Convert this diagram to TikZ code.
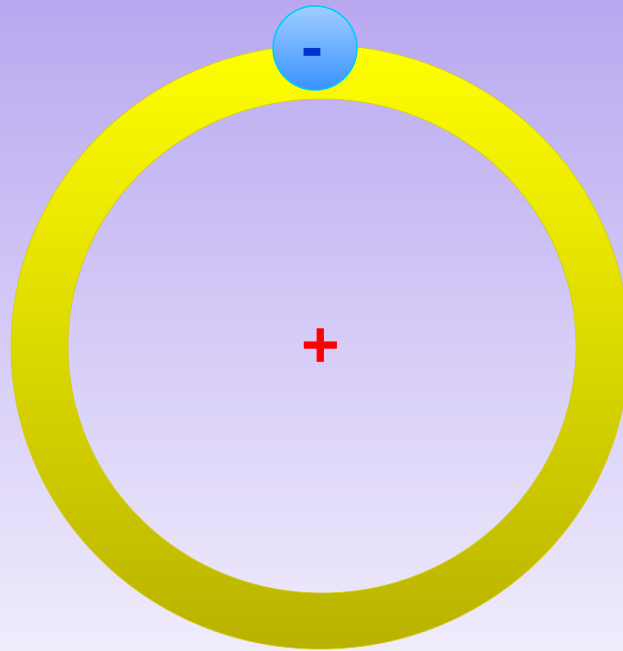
\documentclass[tikz,border=0pt]{standalone}
\usepackage{tikz}
\usepackage{fontspec}
\setmainfont{Liberation Sans}
\definecolor{bgtop}{RGB}{185,168,240}
\definecolor{bgbot}{RGB}{240,236,252}
\definecolor{ringtop}{RGB}{255,255,0}
\definecolor{ringbot}{RGB}{184,178,0}
\definecolor{ringedge}{RGB}{210,205,40}
\definecolor{balltop}{RGB}{160,205,255}
\definecolor{ballbot}{RGB}{55,145,255}
\definecolor{balledge}{RGB}{0,204,255}
\definecolor{minusblue}{RGB}{0,51,204}
\tikzset{
  ballstyle/.style={circle, minimum size=84pt, inner sep=0pt, draw=balledge, line width=1.5pt, top color=balltop, bottom color=ballbot},
  signtext/.style={inner sep=0pt, font=\fontsize{66}{66}\selectfont\bfseries}
}
\begin{document}
\begin{tikzpicture}[x=1pt,y=-1pt]
\useasboundingbox (0,0) rectangle (623,651);
\shade[top color=bgtop, bottom color=bgbot] (0,0) rectangle (623,651);
% ring
\path[even odd rule, top color=ringtop, bottom color=ringbot, draw=ringedge, line width=0.8pt]
  (320,347) ellipse [x radius=309, y radius=302]
  (322,346) ellipse [x radius=254, y radius=247];
% plus sign
\node[signtext, text=red] (plus) at (320.5,348.5) {+};
% ball
\node[ballstyle] (ball) at (315,48) {};
\node[signtext, text=minusblue] (minus) at (312,58.5) {-};
\end{tikzpicture}
\end{document}
